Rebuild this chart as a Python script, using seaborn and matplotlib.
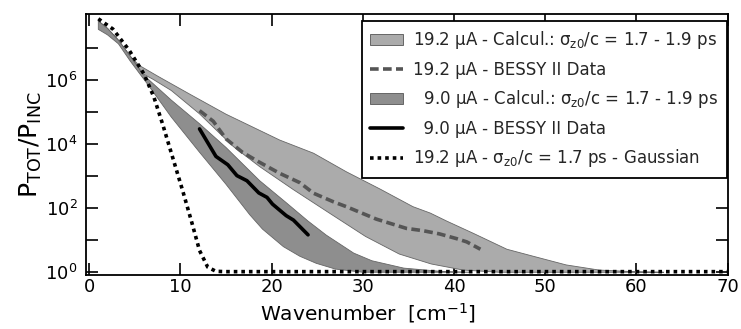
import numpy as np
import matplotlib
matplotlib.use("Agg")
import matplotlib.pyplot as plt
import seaborn as sns
from matplotlib.patches import Patch
from matplotlib.lines import Line2D
from matplotlib.ticker import FixedLocator, FixedFormatter, NullLocator

# ---- data (y given as log10 exponents) ----
# 19.2 uA calculated band (sigma_z0/c = 1.7 - 1.9 ps)
cal19_top_x = [1.0, 2.0, 3.2, 4.5, 5.45, 7.5, 11.0, 15.0, 20.9, 24.6, 28.2, 31.9, 35.5, 37.4,
               39.2, 42.1, 45.8, 48.7, 52.3, 55.9, 59.6, 63.0]
cal19_top_exp = [7.85, 7.62, 7.25, 6.75, 6.47, 6.13, 5.57, 4.94, 4.13, 3.72, 3.14, 2.6, 2.05, 1.85,
                 1.6, 1.22, 0.72, 0.5, 0.23, 0.07, 0.02, 0.0]
cal19_bot_x = [1.0, 2.0, 3.2, 4.5, 5.9, 7.0, 9.0, 12.1, 15.8, 18.7, 22.4, 26.5, 30.3, 34.0,
               37.5, 41.0, 45.0]
cal19_bot_exp = [7.85, 7.62, 7.25, 6.75, 6.2, 6.03, 5.68, 4.95, 3.93, 3.3, 2.58, 1.82, 1.12, 0.57,
                 0.26, 0.07, 0.0]

# 9.0 uA calculated band
cal9_top_x = [1.0, 2.0, 3.2, 4.5, 5.9, 9.0, 12.1, 15.0, 18.7, 21.5, 24.0, 26.0, 27.5, 29.0,
              31.0, 34.5, 38.5, 42.0]
cal9_top_exp = [7.85, 7.62, 7.25, 6.75, 6.18, 5.38, 4.64, 3.9, 2.86, 2.2, 1.6, 1.16, 0.88, 0.6,
                0.36, 0.13, 0.03, 0.0]
cal9_bot_x = [1.0, 2.0, 3.2, 4.5, 6.6, 9.0, 12.1, 15.0, 17.6, 19.0, 21.3, 23.1, 24.9, 27.0, 30.0]
cal9_bot_exp = [7.59, 7.42, 7.14, 6.6, 5.8, 4.85, 3.75, 2.75, 1.8, 1.35, 0.8, 0.5, 0.28, 0.1, 0.0]

# BESSY II measured data
bessy19_x = [12.1, 13.6, 15.0, 16.8, 18.6, 20.9, 23.1, 24.6, 26.8, 28.2, 31.5, 34.8, 36.6,
             38.4, 40.3, 41.4, 42.9]
bessy19_exp = [5.05, 4.72, 4.17, 3.75, 3.45, 3.09, 2.8, 2.47, 2.2, 2.05, 1.66, 1.37, 1.3,
               1.2, 1.05, 0.95, 0.72]
bessy9_x = [12.1, 13.0, 13.9, 14.4, 15.2, 16.2, 17.3, 18.6, 19.5, 20.1, 21.6, 22.4, 24.0]
bessy9_exp = [4.48, 4.05, 3.62, 3.52, 3.36, 3.02, 2.86, 2.48, 2.34, 2.13, 1.77, 1.63, 1.17]

# Gaussian bunch, 19.2 uA, sigma_z0/c = 1.7 ps
gauss_x = [1.0, 2.6, 4.4, 6.0, 7.1, 8.05, 9.15, 10.25, 11.2, 12.1, 13.0, 13.9, 15.0, 70.0]
gauss_exp = [7.92, 7.6, 6.93, 6.2, 5.47, 4.63, 3.59, 2.55, 1.61, 0.68, 0.16, 0.03, 0.02, 0.02]

labels = [
    "19.2 µA - Calcul.: σ$_{\\mathrm{z0}}$/c = 1.7 - 1.9 ps",
    "19.2 µA - BESSY II Data",
    "  9.0 µA - Calcul.: σ$_{\\mathrm{z0}}$/c = 1.7 - 1.9 ps",
    "  9.0 µA - BESSY II Data",
    "19.2 µA - σ$_{\\mathrm{z0}}$/c = 1.7 ps - Gaussian",
]
xticks = [0, 10, 20, 30, 40, 50, 60, 70]
ytick_exp = [0, 1, 2, 3, 4, 5, 6, 7]

# ---- style ----
sns.set_theme(style="ticks")
plt.rcParams["font.family"] = ["DejaVu Sans"]
plt.rcParams["mathtext.fontset"] = "dejavusans"

LIGHT = "#ababab"
DARK = "#8e8e8e"
EDGE = "#666666"

fig = plt.figure(figsize=(7.41, 3.29), dpi=100)
ax = fig.add_axes([86 / 741, 1 - 275 / 329, 642 / 741, 261 / 329])
ax.set_facecolor("white")
ax.set_yscale("log")


def band(xt, et, xb, eb, color, z):
    xs = np.concatenate([np.asarray(xt), np.asarray(xb)[::-1]])
    ys = 10.0 ** np.concatenate([np.asarray(et), np.asarray(eb)[::-1]])
    ax.fill(xs, ys, facecolor=color, edgecolor=EDGE, linewidth=0.6, zorder=z)


band(cal19_top_x, cal19_top_exp, cal19_bot_x, cal19_bot_exp, LIGHT, 1)
band(cal9_top_x, cal9_top_exp, cal9_bot_x, cal9_bot_exp, DARK, 2)

sns.lineplot(x=bessy19_x, y=10.0 ** np.array(bessy19_exp), ax=ax, color="#555555",
             linewidth=2.6, linestyle=(0, (2.4, 1.2)), zorder=3)
sns.lineplot(x=bessy9_x, y=10.0 ** np.array(bessy9_exp), ax=ax, color="black",
             linewidth=2.6, zorder=3)
sns.lineplot(x=gauss_x, y=10.0 ** np.array(gauss_exp), ax=ax, color="black",
             linewidth=2.6, linestyle=(0, (1.0, 1.1)), zorder=4)

ax.set_xlim(-0.35, 70.05)
ax.set_ylim(10 ** -0.085, 10 ** 8.07)
ax.xaxis.set_major_locator(FixedLocator(xticks))
ax.set_xticklabels([str(t) for t in xticks])
ax.yaxis.set_major_locator(FixedLocator([10.0 ** e for e in ytick_exp]))
ax.yaxis.set_major_formatter(FixedFormatter(
    ["$10^{%d}$" % e if e % 2 == 0 else "" for e in ytick_exp]))
ax.yaxis.set_minor_locator(NullLocator())
ax.xaxis.set_minor_locator(NullLocator())
ax.tick_params(which="both", direction="in", top=True, right=True, length=8.5,
               width=1.2, color="black", labelsize=13, labelcolor="black")
ax.tick_params(axis="x", pad=2)
ax.tick_params(axis="y", pad=6)
for s in ax.spines.values():
    s.set_linewidth(1.3)
    s.set_color("black")

ax.set_xlabel("Wavenumber  [cm$^{-1}$]", fontsize=14.5, color="black")
ax.xaxis.set_label_coords(0.44, -0.1)
ax.set_ylabel("P$_{\\mathrm{TOT}}$/P$_{\\mathrm{INC}}$", fontsize=18, color="black")
ax.yaxis.set_label_coords(-0.066, 0.5)

handles = [
    Patch(facecolor=LIGHT, edgecolor=EDGE, linewidth=0.7),
    Line2D([], [], color="#555555", linewidth=2.6, linestyle=(0, (2.4, 1.2))),
    Patch(facecolor=DARK, edgecolor=EDGE, linewidth=0.7),
    Line2D([], [], color="black", linewidth=2.6),
    Line2D([], [], color="black", linewidth=2.6, linestyle=(0, (1.0, 1.1))),
]
leg = ax.legend(handles, labels, loc="upper right", bbox_to_anchor=(0.998, 0.973),
                borderaxespad=0, fontsize=12, frameon=True, fancybox=False,
                framealpha=1, edgecolor="black", handlelength=2.0, handletextpad=0.6,
                labelspacing=0.57, borderpad=0.5)
leg.get_frame().set_linewidth(1.3)

fig.savefig("out.png", dpi=100)
